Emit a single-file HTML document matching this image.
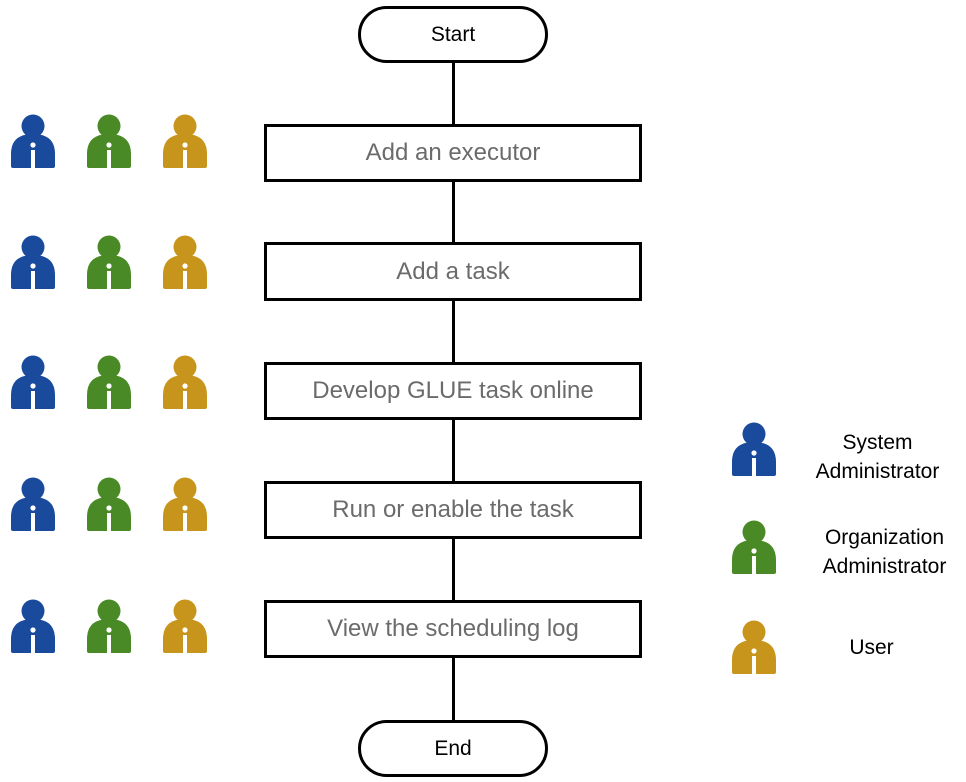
<!DOCTYPE html>
<html><head><style>
body{margin:0;background:#fff;width:966px;height:782px;position:relative;font-family:"Liberation Sans",sans-serif;overflow:hidden}
.b{position:absolute;box-sizing:border-box;border:3px solid #000;background:#fff;display:flex;align-items:center;justify-content:center;font-size:24px;color:#6b6b6b}
.t{position:absolute;left:358px;width:190px;height:57px;border-radius:29px;color:#000;font-size:21px}
.ic{position:absolute;width:46px;height:54px}
.lg{position:absolute;font-size:21px;text-align:center;line-height:29px;color:#000}
</style></head><body>
<svg width="0" height="0" style="position:absolute"><defs>
<g id="p"><circle cx="23" cy="12" r="11.5"/><path d="M1 52 V40 Q1 20 23 20 Q45 20 45 40 V52 Q45 54 43 54 H3 Q1 54 1 52Z"/><circle cx="23" cy="31" r="2.6" fill="#fff"/><rect x="21" y="36" width="4" height="18" fill="#fff"/></g>
</defs></svg>
<div style="position:absolute;left:452px;top:60px;width:3px;height:662px;background:#000"></div>
<div class="b t" style="top:6px">Start</div>
<div class="b t" style="top:720px">End</div>
<div class="b" style="left:264px;top:124px;width:378px;height:58px">Add an executor</div>
<div class="b" style="left:264px;top:242px;width:378px;height:59px">Add a task</div>
<div class="b" style="left:264px;top:362px;width:378px;height:58px">Develop GLUE task online</div>
<div class="b" style="left:264px;top:481px;width:378px;height:58px">Run or enable the task</div>
<div class="b" style="left:264px;top:600px;width:378px;height:58px">View the scheduling log</div>
<svg class="ic" style="left:10px;top:114px" fill="#1a4a9c"><use href="#p"/></svg>
<svg class="ic" style="left:86px;top:114px" fill="#4a8a26"><use href="#p"/></svg>
<svg class="ic" style="left:162px;top:114px" fill="#c8951c"><use href="#p"/></svg>
<svg class="ic" style="left:10px;top:235px" fill="#1a4a9c"><use href="#p"/></svg>
<svg class="ic" style="left:86px;top:235px" fill="#4a8a26"><use href="#p"/></svg>
<svg class="ic" style="left:162px;top:235px" fill="#c8951c"><use href="#p"/></svg>
<svg class="ic" style="left:10px;top:355px" fill="#1a4a9c"><use href="#p"/></svg>
<svg class="ic" style="left:86px;top:355px" fill="#4a8a26"><use href="#p"/></svg>
<svg class="ic" style="left:162px;top:355px" fill="#c8951c"><use href="#p"/></svg>
<svg class="ic" style="left:10px;top:477px" fill="#1a4a9c"><use href="#p"/></svg>
<svg class="ic" style="left:86px;top:477px" fill="#4a8a26"><use href="#p"/></svg>
<svg class="ic" style="left:162px;top:477px" fill="#c8951c"><use href="#p"/></svg>
<svg class="ic" style="left:10px;top:599px" fill="#1a4a9c"><use href="#p"/></svg>
<svg class="ic" style="left:86px;top:599px" fill="#4a8a26"><use href="#p"/></svg>
<svg class="ic" style="left:162px;top:599px" fill="#c8951c"><use href="#p"/></svg>
<svg class="ic" style="left:731px;top:422px" fill="#1a4a9c"><use href="#p"/></svg>
<svg class="ic" style="left:731px;top:520px" fill="#4a8a26"><use href="#p"/></svg>
<svg class="ic" style="left:731px;top:620px" fill="#c8951c"><use href="#p"/></svg>
<div class="lg" style="left:790px;top:428px;width:175px">System<br>Administrator</div>
<div class="lg" style="left:797px;top:523px;width:175px">Organization<br>Administrator</div>
<div class="lg" style="left:784px;top:633px;width:175px">User</div>
</body></html>
